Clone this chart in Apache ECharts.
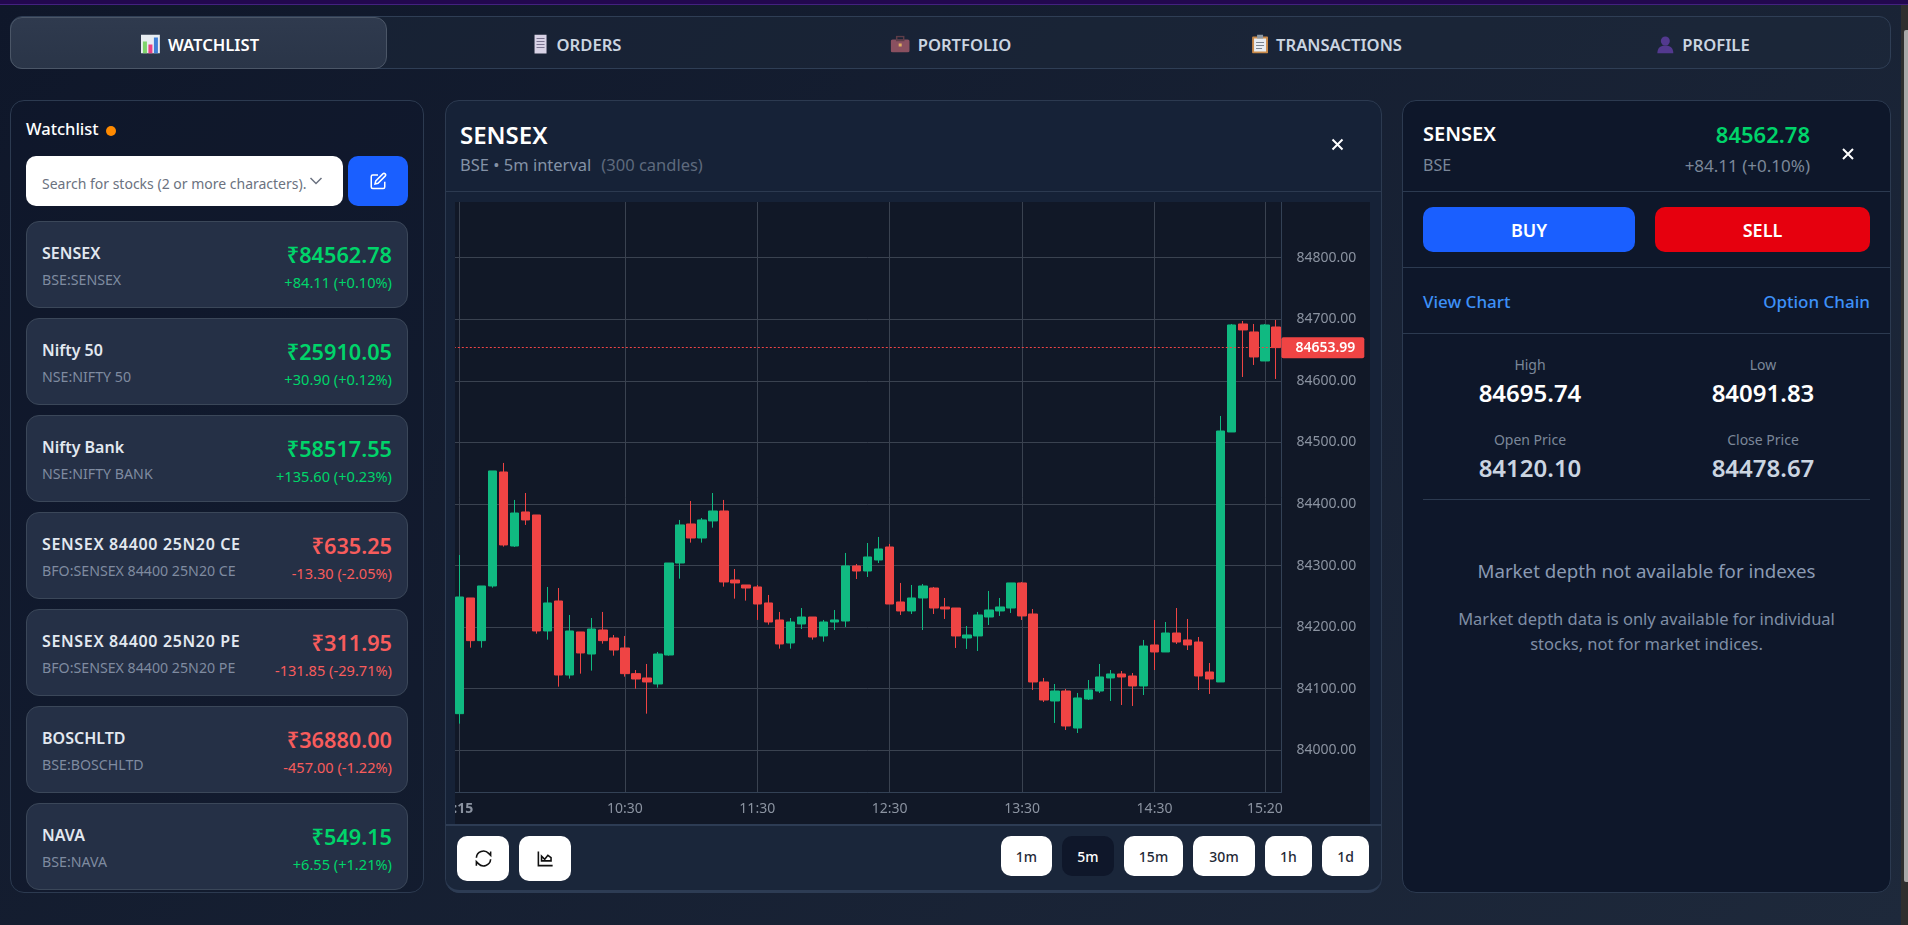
<!DOCTYPE html>
<html>
<head>
<meta charset="utf-8">
<title>SENSEX</title>
<script src="https://cdn.jsdelivr.net/npm/echarts@6/dist/echarts.min.js"></script>
<style>
*{box-sizing:border-box}
html,body{margin:0;width:1908px;height:925px;overflow:hidden}
body{position:relative;font-family:"Noto Sans",sans-serif;background:linear-gradient(135deg,#0f172a 0,#1e293b 100%);color:#fff}
.a{position:absolute}
.t{position:absolute;white-space:nowrap;line-height:1}
#strip{left:0;top:0;width:1908px;height:5px;background:#22084e;border-bottom:1px solid #43217f}
#tabs{left:10px;top:16px;width:1881px;height:53px;border:1px solid #2f3e55;border-radius:12px;background:rgba(30,41,59,.5)}
#tabOn{left:10px;top:17px;width:377px;height:52px;border:1.5px solid #4b5667;border-radius:12px;background:linear-gradient(180deg,#2f3a4e,#2a3548)}
.tab{position:absolute;top:44px;font-size:16.6px;font-weight:600;color:#cbd5e1;display:flex;align-items:center;gap:8px;white-space:nowrap}
.panel{position:absolute;top:100px;height:793px;border:1px solid #2c3a50;border-radius:14px}
.card{position:absolute;left:26px;width:382px;height:86.5px;background:#253046;border:1px solid #3b4759;border-radius:13px}
.tf{position:absolute;top:836px;height:40px;border-radius:10px;background:#fff;color:#1f2937;font-size:14px;font-weight:500;display:flex;align-items:center;justify-content:center}
.tb{position:absolute;top:836px;height:45px;width:52px;border-radius:10px;background:#fff;display:flex;align-items:center;justify-content:center}
.up{color:#00d46a}.dn{color:#f85c5c}
</style>
</head>
<body>
<div id="strip" class="a"></div>
<div class="a" style="left:1901px;top:5px;width:7px;height:920px;background:#2e2e2e"></div>
<div class="a" style="left:1904px;top:30px;width:4px;height:852px;background:#a8a8a8;border-radius:2px 0 0 2px"></div>
<div id="tabs" class="a"></div>
<div id="tabOn" class="a"></div>
<div id="tabHost"></div>

<div class="panel" style="left:10px;width:414px;background:rgba(15,23,42,.35)"></div>
<div class="t" style="left:26px;top:121px;font-size:16.500px;font-weight:500">Watchlist</div>
<div class="a" style="left:106px;top:126px;width:10px;height:10px;border-radius:50%;background:#ff8a00"></div>
<div class="a" style="left:26px;top:156px;width:317px;height:50px;background:#fff;border-radius:10px"></div>
<div class="t" style="left:42px;top:177px;font-size:14px;color:#6b7280">Search for stocks (2 or more characters).</div>
<svg class="a" style="left:309px;top:176px" width="14" height="10" viewBox="0 0 14 10"><path d="M1.5 2l5.5 5.500 5.500-5.500" fill="none" stroke="#6b7280" stroke-width="1.500"/></svg>
<div class="a" style="left:347.500px;top:156px;width:60.500px;height:50px;background:#1a5fff;border-radius:10px"></div>
<svg class="a" style="left:369px;top:171px" width="18" height="20" viewBox="0 0 24 24" fill="none" stroke="#fff" stroke-width="2"><path d="M12 4H5a2 2 0 0 0-2 2v14a2 2 0 0 0 2 2h14a2 2 0 0 0 2-2v-7"/><path d="M18.500 2.500a2.100 2.100 0 0 1 3 3L12 15l-4 1 1-4z"/></svg>
<div id="cards"></div>

<div class="panel" style="left:445px;width:937px;background:#162237"></div>
<div class="t" style="left:460px;top:123px;font-size:24px;font-weight:600">SENSEX</div>
<div class="t" style="left:460px;top:157px;font-size:16.500px;color:#8492a6">BSE • 5m interval<span style="color:#5e6a7d;margin-left:10px">(300 candles)</span></div>
<svg class="a" style="left:1330px;top:137px" width="15" height="15" viewBox="0 0 15 15"><path d="M2.500 2.500l10 10M12.500 2.500l-10 10" stroke="#fff" stroke-width="2"/></svg>
<div class="a" style="left:446px;top:191px;width:935px;height:1px;background:#2c3a50"></div>
<div id="chart" class="a" style="left:455px;top:202px;width:915px;height:622px;background:#111827"></div>
<div class="a" style="left:446px;top:824px;width:935px;height:69px;background:#1a263a;border-top:2px solid #2d3c54;border-bottom:3px solid #2d3c54;border-radius:0 0 14px 14px"></div>
<div class="tb" style="left:457px"><svg width="19" height="19" viewBox="0 0 24 24" fill="none" stroke="#111" stroke-width="2"><path d="M3 11a9 9 0 0 1 15.500-5.500L21 8V3M21 13a9 9 0 0 1-15.500 5.500L3 16v5"/></svg></div>
<div class="tb" style="left:519px"><svg width="19" height="19" viewBox="0 0 24 24" fill="none" stroke="#111" stroke-width="2"><path d="M3 3v18h18"/><path d="M7 15V9l4 4 4-5 4 3v4z"/></svg></div>
<div id="tfHost"></div>

<div class="panel" style="left:1402px;width:489px;background:#0e172a"></div>
<div class="t" style="left:1423px;top:124px;font-size:20px;font-weight:600">SENSEX</div>
<div class="t" style="left:1423px;top:157px;font-size:16px;color:#7b8799">BSE</div>
<div class="t" style="right:98px;top:123px;font-size:22px;font-weight:600;color:#00d46a">84562.78</div>
<div class="t" style="right:98px;top:157px;font-size:17px;color:#7b8799">+84.11 (+0.10%)</div>
<svg class="a" style="left:1841px;top:147px" width="14" height="14" viewBox="0 0 14 14"><path d="M2 2l10 10M12 2L2 12" stroke="#fff" stroke-width="2"/></svg>
<div class="a" style="left:1403px;top:191px;width:487px;height:1px;background:#2c3a50"></div>
<div class="a" style="left:1423px;top:207px;width:212px;height:45px;background:#1a5fff;border-radius:10px;display:flex;align-items:center;justify-content:center;font-size:18px;font-weight:600">BUY</div>
<div class="a" style="left:1655px;top:207px;width:215px;height:45px;background:#e6000e;border-radius:10px;display:flex;align-items:center;justify-content:center;font-size:18px;font-weight:600">SELL</div>
<div class="a" style="left:1403px;top:267px;width:487px;height:1px;background:#2c3a50"></div>
<div class="t" style="left:1423px;top:293px;font-size:17px;font-weight:500;color:#3d90f7">View Chart</div>
<div class="t" style="right:38px;top:293px;font-size:17px;font-weight:500;color:#3d90f7">Option Chain</div>
<div class="a" style="left:1403px;top:333px;width:487px;height:1px;background:#2c3a50"></div>
<div id="stats"></div>
<div class="a" style="left:1403px;top:559px;width:487px;text-align:center;font-size:18.700px;line-height:24px;color:#8a9ab3">Market depth not available for indexes</div>
<div class="a" style="left:1423px;top:499px;width:447px;height:1px;background:#2c3a50"></div>
<div class="a" style="left:1423px;top:606px;width:447px;text-align:center;font-size:16.500px;line-height:25px;color:#7f8ea5">Market depth data is only available for individual<br>stocks, not for market indices.</div>

<script>
// ---- Watchlist ----
const watchNames = ["SENSEX","Nifty 50","Nifty Bank","SENSEX 84400 25N20 CE","SENSEX 84400 25N20 PE","BOSCHLTD","NAVA"];
const watchSubs = ["BSE:SENSEX","NSE:NIFTY 50","NSE:NIFTY BANK","BFO:SENSEX 84400 25N20 CE","BFO:SENSEX 84400 25N20 PE","BSE:BOSCHLTD","BSE:NAVA"];
const watchPrices = ["₹84562.78","₹25910.05","₹58517.55","₹635.25","₹311.95","₹36880.00","₹549.15"];
const watchChanges = ["+84.11 (+0.10%)","+30.90 (+0.12%)","+135.60 (+0.23%)","-13.30 (-2.05%)","-131.85 (-29.71%)","-457.00 (-1.22%)","+6.55 (+1.21%)"];

// ---- Candles (5m) ----
const times = ["9:15","9:20","9:25","9:30","9:35","9:40","9:45","9:50","9:55","10:00","10:05","10:10","10:15","10:20","10:25","10:30","10:35","10:40","10:45","10:50","10:55","11:00","11:05","11:10","11:15","11:20","11:25","11:30","11:35","11:40","11:45","11:50","11:55","12:00","12:05","12:10","12:15","12:20","12:25","12:30","12:35","12:40","12:45","12:50","12:55","13:00","13:05","13:10","13:15","13:20","13:25","13:30","13:35","13:40","13:45","13:50","13:55","14:00","14:05","14:10","14:15","14:20","14:25","14:30","14:35","14:40","14:45","14:50","14:55","15:00","15:05","15:10","15:15","15:20","15:25"];
const opens = [84059.5,84247.4,84178.1,84266.9,84452.0,84331.8,84387.1,84382.2,84193.8,84242.5,84122.3,84192.2,84156.4,84195.4,84182.4,84166.2,84124.5,84117.5,84107.7,84154.8,84304.2,84367.6,84344.8,84372.5,84388.7,84276.6,84268.5,84265.3,84239.3,84211.7,84174.3,84205.2,84216.5,84185.7,84208.4,84210.0,84299.4,84291.2,84309.1,84330.2,84240.9,84226.3,84247.4,84263.6,84232.8,84231.1,84182.4,84185.7,84216.5,84226.3,84231.1,84271.8,84221.4,84111.0,84080.1,84096.3,84036.2,84083.3,84096.3,84117.5,84124.0,84120.7,84104.5,84171.1,84159.7,84190.5,84179.2,84175.9,84127.2,84111.0,84517.0,84692.4,84679.4,84632.3,84687.5];
const closes = [84249.0,84178.1,84266.9,84453.7,84333.5,84385.4,84374.1,84193.8,84239.3,84122.3,84193.8,84158.1,84197.0,84178.1,84162.9,84124.5,84115.8,84111.0,84156.4,84304.2,84366.0,84344.8,84374.1,84388.7,84273.4,84271.8,84263.6,84237.6,84208.4,84172.7,84208.4,84216.5,84184.0,84208.4,84211.7,84299.4,84291.2,84314.0,84327.0,84237.6,84226.3,84247.4,84266.9,84231.1,84229.5,84185.7,84187.3,84219.8,84227.9,84232.8,84271.8,84218.2,84111.0,84081.7,84096.3,84039.5,84085.0,84098.0,84119.1,84124.0,84119.1,84104.5,84169.4,84159.7,84190.5,84175.9,84171.1,84120.7,84115.8,84518.6,84690.8,84682.7,84638.8,84690.8,84653.99];
const lows = [84043.3,84166.7,84166.7,84264.2,84330.8,84330.2,84366.0,84189.5,84179.7,84103.4,84116.4,84124.5,84129.4,84173.2,84153.7,84119.6,84100.1,84059.5,84101.8,84153.7,84278.8,84337.3,84337.3,84361.6,84265.8,84246.3,84243.1,84211.7,84204.1,84165.1,84165.1,84197.0,84179.7,84176.5,84195.4,84200.3,84278.2,84281.5,84304.2,84237.6,84219.8,84221.4,84195.4,84221.4,84213.3,84166.2,84164.6,84161.3,84203.5,84218.2,84223.0,84211.7,84098.0,84078.5,84044.4,84033.0,84028.1,84081.7,84093.1,84080.1,84073.6,84072.0,84089.8,84130.4,84159.7,84172.7,84162.9,84098.0,84091.5,84111.0,84517.0,84606.3,84625.8,84632.3,84603.1];
const highs = [84317.2,84247.4,84266.9,84453.7,84466.7,84406.6,84417.9,84382.2,84265.3,84263.6,84219.8,84192.2,84214.9,84224.7,84187.3,84185.7,84130.4,84140.2,84159.7,84304.2,84374.1,84404.9,84377.3,84417.9,84406.6,84294.5,84268.5,84268.5,84252.3,84224.7,84214.9,84231.1,84216.5,84211.7,84227.9,84320.5,84302.6,84336.7,84346.5,84335.1,84271.8,84268.5,84270.1,84265.3,84247.4,84231.1,84201.9,84224.7,84258.8,84247.4,84271.8,84273.4,84229.5,84117.5,84107.7,84099.6,84093.1,84114.2,84140.2,84130.4,84128.8,84125.6,84179.2,84211.7,84208.4,84231.1,84213.3,84184.0,84141.8,84543.0,84692.4,84697.3,84692.4,84692.4,84698.9];
const xTickLabels = ["9:15","10:30","11:30","12:30","13:30","14:30","15:20"];
const yTicks = [84000,84100,84200,84300,84400,84500,84600,84700,84800];
const lastPrice = 84653.99;

// ---- Panels ----
const statLabels = ["High","Low","Open Price","Close Price"];
const statValues = ["84695.74","84091.83","84120.10","84478.67"];
const tabNames = ["WATCHLIST","ORDERS","PORTFOLIO","TRANSACTIONS","PROFILE"];
const intervals = ["1m","5m","15m","30m","1h","1d"];

const tabIcons = [
 '<svg width="19" height="19" viewBox="0 0 19 19"><rect width="19" height="19" fill="#e8edf2"/><rect x="2" y="7" width="4" height="12" fill="#7fd46b"/><rect x="7.500" y="10" width="4" height="9" fill="#ec3f82"/><rect x="13" y="3" width="4" height="16" fill="#3f7fd6"/></svg>',
 '<svg width="16" height="20" viewBox="0 0 16 20"><rect x="2" y="0" width="12" height="19" fill="#d8d2e6"/><path d="M4 4h8M4 7h8M4 10h8M4 13h8" stroke="#7a7490"/></svg>',
 '<svg width="19" height="17" viewBox="0 0 19 17"><rect y="4" width="19" height="13" rx="2" fill="#8a5060"/><rect x="6" y="1" width="7" height="4" fill="none" stroke="#5e3d48" stroke-width="1.500"/><rect x="8" y="8" width="3" height="3" fill="#e0b060"/></svg>',
 '<svg width="16" height="19" viewBox="0 0 16 19"><rect y="2" width="16" height="17" rx="1" fill="#c98a4a"/><rect x="2" y="4" width="12" height="13" fill="#e8edf2"/><rect x="5" y="0" width="6" height="4" fill="#8c98a4"/><path d="M4 8h8M4 11h8M4 14h6" stroke="#7a8490"/></svg>',
 '<svg width="18" height="18" viewBox="0 0 18 18"><circle cx="9" cy="5.500" r="4.500" fill="#53398f"/><path d="M1 18c0-6 3.500-8 8-8s8 2 8 8z" fill="#53398f"/></svg>'
];
const tabCenters = [200,577,951,1327,1703];
document.getElementById('tabHost').innerHTML = tabNames.map((n,i)=>
 `<div class="tab" style="left:${tabCenters[i]}px;transform:translate(-50%,-50%);${i==0?'color:#fff':''}">${tabIcons[i]}<span>${n}</span></div>`).join('');

const cardTops = [221,318,415,512.300,609.300,706,803.300];
document.getElementById('cards').innerHTML = watchNames.map((n,i)=>{
 const cls = watchChanges[i][0]=='+'?'up':'dn';
 const y = cardTops[i];
 const sp = /\d{3}/.test(n) ? 'letter-spacing:.65px;' : '';
 return `<div class="card" style="top:${y}px"></div>
 <div class="t" style="left:42px;top:${y+24}px;font-size:16px;font-weight:600;color:#e2e8f0;${sp}">${n}</div>
 <div class="t" style="left:42px;top:${y+52}px;font-size:14.200px;color:#7f8ba0">${watchSubs[i]}</div>
 <div class="t ${cls}" style="right:1516px;top:${y+23}px;font-size:21.700px;font-weight:600">${watchPrices[i]}</div>
 <div class="t ${cls}" style="right:1516px;top:${y+54}px;font-size:14.600px">${watchChanges[i]}</div>`;
}).join('');

const tfLefts = [1001,1062,1124,1193,1265,1322], tfWidths=[51,52,59,62,47,47];
document.getElementById('tfHost').innerHTML = intervals.map((n,i)=>
 `<div class="tf" style="left:${tfLefts[i]}px;width:${tfWidths[i]}px;${i==1?'background:#0f172a;color:#fff':''}">${n}</div>`).join('');

const statX=[1530,1763], statLblY=[358,433], statValY=[381,456];
document.getElementById('stats').innerHTML = statLabels.map((l,i)=>{
 const x=statX[i%2], r=i>>1;
 return `<div class="t" style="left:${x}px;top:${statLblY[r]}px;transform:translateX(-50%);font-size:14px;color:#7b8799">${l}</div>
 <div class="t" style="left:${x}px;top:${statValY[r]}px;transform:translateX(-50%);font-size:24px;font-weight:600;color:${r?'#cbd5e1':'#fff'}">${statValues[i]}</div>`;
}).join('');

// ---- Chart ----
const chart = echarts.init(document.getElementById('chart'), null, {renderer:'canvas'});
const tickFilter = (i, v) => xTickLabels.includes(v);
const gridColor = '#3a4250';
chart.setOption({
 animation:false,
 backgroundColor:'#111827',
 textStyle:{fontFamily:'"Noto Sans",sans-serif'},
 grid:{left:-1.2,right:88.6,top:0,bottom:31.7,containLabel:false,outerBoundsMode:'none'},
 xAxis:{type:'category',data:times,boundaryGap:true,
  axisLine:{lineStyle:{color:'#334155'}},axisTick:{show:false,alignWithLabel:true},
  axisLabel:{interval:tickFilter,color:'#8b93a1',fontSize:14,margin:10,hideOverlap:false,showMinLabel:true,showMaxLabel:true,
   formatter:v=>v==='9:15'?'{b|'+v+'}':v,rich:{b:{fontWeight:'bold',fontSize:14,color:'#8b93a1'}}},
  splitLine:{show:true,interval:tickFilter,alignWithLabel:true,showMinLine:true,showMaxLine:true,lineStyle:{color:gridColor,width:1}}},
 yAxis:{type:'value',position:'right',min:83931.8,max:84890.5,
  axisLine:{show:true,lineStyle:{color:'#334155'}},axisTick:{show:false,customValues:yTicks},
  axisLabel:{color:'#8b93a1',fontSize:14,margin:15,customValues:yTicks,formatter:v=>v.toFixed(2)},
  splitLine:{show:true,lineStyle:{color:gridColor,width:1}}},
 series:[{type:'candlestick',barWidth:9,
  data:times.map((t,i)=>[opens[i],closes[i],lows[i],highs[i]]),
  itemStyle:{color:'#10b981',color0:'#ef4444',borderColor:'#10b981',borderColor0:'#ef4444',borderWidth:1},
  markLine:{silent:true,symbol:'none',animation:false,
   lineStyle:{color:'#ef4444',type:[2,2],width:1},
   label:{show:true,position:'end',distance:0,formatter:p=>Number(p.value).toFixed(2),color:'#fff',fontSize:14,fontWeight:600,backgroundColor:'#ef4444',padding:[4,9,3,14],borderRadius:2},
   data:[{yAxis:lastPrice}]}}]
});
</script>
</body>
</html>
